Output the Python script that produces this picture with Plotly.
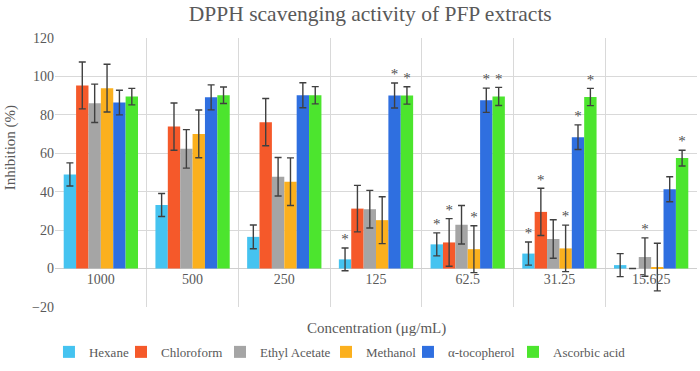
import plotly.graph_objects as go

categories = ["1000", "500", "250", "125", "62.5", "31.25", "15.625"]

series_names = ["Hexane", "Chloroform", "Ethyl Acetate", "Methanol", "α-tocopherol", "Ascorbic acid"]

hexane = [49.0, 33.1, 16.5, 4.8, 12.6, 7.8, 1.8]
hexane_err = [6.0, 6.0, 6.2, 5.9, 6.0, 6.0, 6.0]
chloroform = [95.3, 73.9, 76.2, 31.2, 13.6, 29.5, 0]
chloroform_err = [12.2, 12.3, 12.3, 12.1, 12.4, 12.3, 0]
ethyl_acetate = [86.0, 62.3, 47.8, 30.9, 22.8, 15.4, 6.0]
ethyl_acetate_err = [10.0, 10.0, 10.0, 9.8, 10.0, 10.0, 10.0]
methanol = [93.9, 70.1, 45.2, 25.2, 10.1, 10.5, 0.8]
methanol_err = [12.4, 12.4, 12.4, 12.2, 12.2, 12.1, 12.4]
tocopherol = [86.4, 89.1, 90.2, 90.1, 87.6, 68.4, 41.3]
tocopherol_err = [6.4, 6.5, 6.5, 6.5, 6.3, 6.4, 6.5]
ascorbic = [89.5, 90.2, 90.2, 90.1, 89.6, 89.3, 57.5]
ascorbic_err = [4.3, 4.3, 4.5, 4.5, 4.7, 4.5, 4.1]

hexane_sig = ["", "", "", "*", "*", "*", ""]
chloroform_sig = ["", "", "", "", "*", "*", ""]
ethyl_acetate_sig = ["", "", "", "", "", "", "*"]
methanol_sig = ["", "", "", "", "*", "*", ""]
tocopherol_sig = ["", "", "", "*", "*", "*", ""]
ascorbic_sig = ["", "", "", "*", "*", "*", "*"]

colors = ["#45C3F0", "#F5592A", "#A5A5A5", "#FBB01E", "#2F6FE0", "#4CE52E"]

values = [hexane, chloroform, ethyl_acetate, methanol, tocopherol, ascorbic]
errors = [hexane_err, chloroform_err, ethyl_acetate_err, methanol_err, tocopherol_err, ascorbic_err]
sigs = [hexane_sig, chloroform_sig, ethyl_acetate_sig, methanol_sig, tocopherol_sig, ascorbic_sig]

# left edge of each single-entry legend, in plot-area (paper) fraction
legend_x = [-0.0094, 0.1028, 0.2570, 0.4221, 0.5498, 0.7134]

y_min, y_max = -20, 120
font_family = "Liberation Serif"
text_gray = "#595959"
star_gray = "#505050"
grid_gray = "#D9D9D9"

legend_keys = ["legend"] + [f"legend{k}" for k in range(2, len(series_names) + 1)]

fig = go.Figure()
for i, name in enumerate(series_names):
    fig.add_trace(go.Bar(
        name=name, x=categories, y=values[i],
        marker=dict(color=colors[i], line=dict(width=0)),
        offsetgroup=f"g{i}", legend=legend_keys[i],
        error_y=dict(type="data", array=errors[i], visible=True,
                     color="#404040", thickness=1.4, width=3.5),
    ))
for i, name in enumerate(series_names):
    fig.add_trace(go.Scatter(
        x=categories,
        y=[v + e for v, e in zip(values[i], errors[i])],
        text=sigs[i], mode="text", textposition="top center",
        textfont=dict(family=font_family, size=15, color=star_gray),
        offsetgroup=f"g{i}", showlegend=False, hoverinfo="skip",
    ))

legend_layouts = {}
for i, key in enumerate(legend_keys):
    legend_layouts[key] = dict(
        orientation="h", x=legend_x[i], xanchor="left",
        y=-0.167, yanchor="middle", bgcolor="rgba(0,0,0,0)",
        font=dict(family=font_family, size=13, color=text_gray),
        itemwidth=30,
    )

fig.update_layout(
    width=700, height=371, autosize=False,
    margin=dict(l=55, r=3, t=38, b=64, autoexpand=False),
    paper_bgcolor="white", plot_bgcolor="white",
    barmode="group", bargap=0.19, bargroupgap=0,
    scattermode="group", scattergap=0.19,
    font=dict(family=font_family, color=text_gray, size=14),
    title=dict(text="DPPH scavenging activity of PFP extracts",
               x=0.529, xref="container", xanchor="center",
               y=1 - 13 / 371, yref="container", yanchor="middle",
               font=dict(family=font_family, size=21.5, color=text_gray)),
    xaxis=dict(type="category", anchor="free",
               position=(0 - y_min) / (y_max - y_min),
               showgrid=True, gridcolor=grid_gray, gridwidth=1,
               tickson="boundaries", ticks="", showline=False,
               tickfont=dict(family=font_family, size=14, color=text_gray)),
    yaxis=dict(range=[y_min, y_max], dtick=20, showgrid=True,
               gridcolor=grid_gray, gridwidth=1,
               zeroline=True, zerolinecolor="#CFCFCF", zerolinewidth=1,
               ticks="", showline=False,
               tickfont=dict(family=font_family, size=14, color=text_gray)),
    annotations=[
        dict(text="Concentration (μg/mL)", xref="paper", yref="paper",
             x=0.5, y=-0.08, xanchor="center", yanchor="middle", showarrow=False,
             font=dict(family=font_family, size=15, color=text_gray)),
        dict(text="Inhibition (%)", xref="paper", yref="paper", textangle=-90,
             x=-0.070, y=0.59, xanchor="center", yanchor="middle", showarrow=False,
             font=dict(family=font_family, size=15, color=text_gray)),
    ],
    **legend_layouts,
)

fig.write_html("out.html", config={"displayModeBar": False},
               post_script="document.body.style.margin='0';")
